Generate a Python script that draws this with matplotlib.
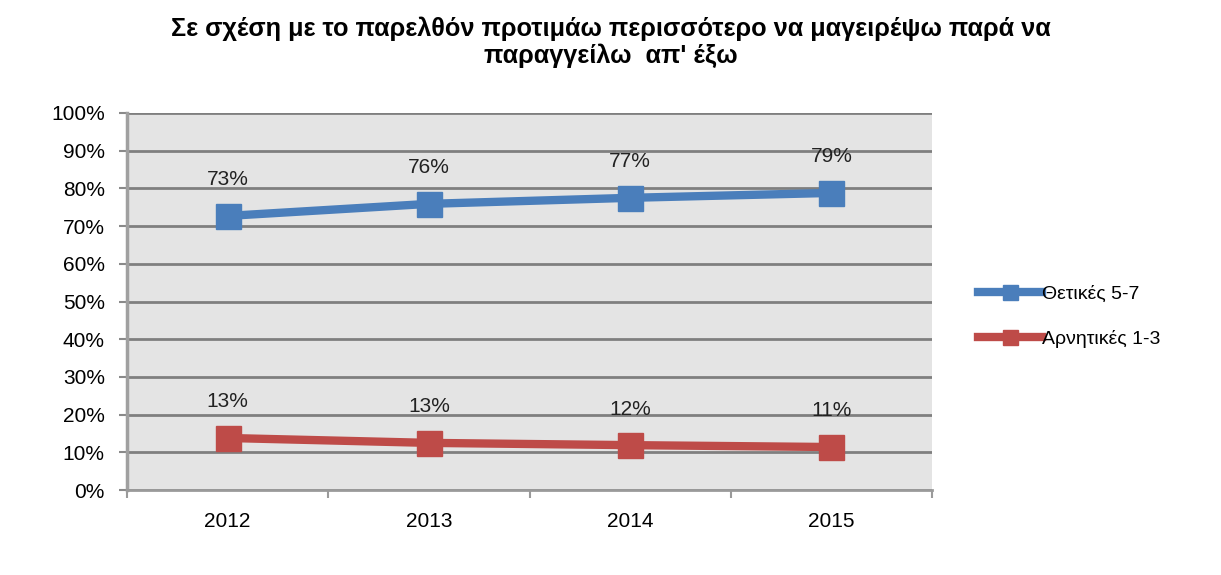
import matplotlib
matplotlib.use("Agg")
import matplotlib.pyplot as plt
from matplotlib.ticker import FuncFormatter, FixedLocator

plt.rcParams['font.family'] = ['Liberation Sans', 'DejaVu Sans']

title = "Σε σχέση με το παρελθόν προτιμάω περισσότερο να μαγειρέψω παρά να\nπαραγγείλω  απ' έξω"
years = ["2012", "2013", "2014", "2015"]
positive = [72.7, 75.9, 77.5, 78.8]
negative = [13.8, 12.5, 11.9, 11.4]
positive_labels = ["73%", "76%", "77%", "79%"]
negative_labels = ["13%", "13%", "12%", "11%"]
series_names = ["Θετικές 5-7", "Αρνητικές 1-3"]

blue = "#4a7ebb"
red = "#be4b48"

fig = plt.figure(figsize=(12.21, 5.75), dpi=100)
ax = fig.add_axes([127/1221, 85/575, (932-127)/1221, (490-113)/575])
ax.set_facecolor("#e4e4e4")

x = list(range(len(years)))
ax.plot(x, positive, color=blue, lw=6, marker="s", ms=18, label=series_names[0], zorder=3)
ax.plot(x, negative, color=red, lw=6, marker="s", ms=18, label=series_names[1], zorder=3)

for xi, v, lab in zip(x, positive, positive_labels):
    ax.annotate(lab, (xi, v), xytext=(0, 26), textcoords="offset points",
                ha="center", va="center", fontsize=15, color="#222222")
for xi, v, lab in zip(x, negative, negative_labels):
    ax.annotate(lab, (xi, v), xytext=(0, 26), textcoords="offset points",
                ha="center", va="center", fontsize=15, color="#222222")

ax.set_xlim(-0.5, len(years) - 0.5)
ax.set_ylim(0, 100)
ax.set_yticks(range(0, 101, 10))
ax.yaxis.set_major_formatter(FuncFormatter(lambda v, p: f"{int(v)}%"))
ax.set_xticks(x)
ax.set_xticklabels(years)
ax.xaxis.set_minor_locator(FixedLocator([i + 0.5 for i in range(-1, len(years))]))
ax.tick_params(axis="x", which="major", length=0, pad=16, labelsize=15)
ax.tick_params(axis="x", which="minor", length=6, color="#9a9a9a", width=1.5)
ax.tick_params(axis="y", length=6, color="#8a8a8a", width=1.5, labelsize=15, pad=10)

ax.grid(axis="y", color="#7f7f7f", lw=2)
ax.set_axisbelow(True)
for s in ["top", "right"]:
    ax.spines[s].set_visible(False)
ax.spines["left"].set_color("#a0a0a0")
ax.spines["left"].set_linewidth(2.5)
ax.spines["bottom"].set_color("#9a9a9a")
ax.spines["bottom"].set_linewidth(2)

fig.text(0.5, 1 - 42/575, title, ha="center", va="center", fontsize=18.2,
         fontweight="bold", linespacing=1.15)

leg = ax.legend(loc="center left", bbox_to_anchor=(1.057, 0.46), frameon=False,
                fontsize=14, handlelength=3.3, labelspacing=1.4, handletextpad=0.0,
                markerscale=0.6, borderaxespad=0, borderpad=0)

fig.savefig("out.png", dpi=100, facecolor="white")
